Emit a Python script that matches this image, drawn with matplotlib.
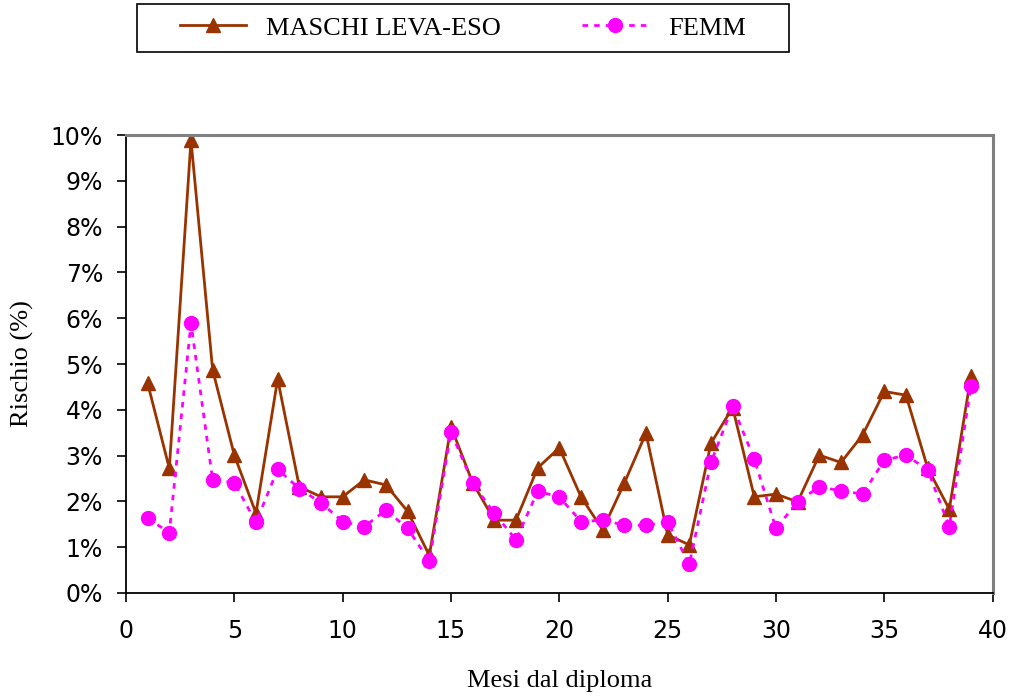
import matplotlib.pyplot as plt
from matplotlib.patches import Rectangle
from matplotlib.ticker import FuncFormatter

mesi = list(range(1, 40))

maschi = [4.58, 2.72, 9.89, 4.87, 3.01, 1.74, 4.67, 2.32, 2.10, 2.10,
          2.47, 2.36, 1.78, 0.82, 3.63, 2.41, 1.59, 1.59, 2.73, 3.17,
          2.10, 1.38, 2.40, 3.49, 1.27, 1.05, 3.27, 4.05, 2.10, 2.16,
          1.99, 3.01, 2.85, 3.45, 4.40, 4.32, 2.73, 1.83, 4.74]

femm = [1.63, 1.32, 5.89, 2.47, 2.41, 1.54, 2.70, 2.28, 1.97, 1.56,
        1.45, 1.81, 1.41, 0.70, 3.52, 2.40, 1.74, 1.16, 2.22, 2.10,
        1.56, 1.59, 1.48, 1.48, 1.55, 0.63, 2.85, 4.08, 2.92, 1.41,
        1.99, 2.32, 2.23, 2.16, 2.90, 3.01, 2.69, 1.45, 4.53]

serif = "Liberation Serif"

fig = plt.figure(figsize=(10.16, 6.96), dpi=100)
ax = fig.add_axes([0.124, 0.148, 0.853, 0.658])

l1, = ax.plot(mesi, maschi, color="#993300", lw=2, marker="^", markersize=10,
              label="MASCHI LEVA-ESO")
l2, = ax.plot(mesi, femm, color="#FF00FF", lw=2, linestyle=(0, (2, 2.2)),
              marker="o", markersize=10, label="FEMM")

ax.set_xlim(0, 40)
ax.set_ylim(0, 10)
ax.set_xticks(range(0, 41, 5))
ax.set_yticks(range(0, 11))
ax.yaxis.set_major_formatter(FuncFormatter(lambda v, p: "%d%%" % v))
ax.tick_params(labelsize=17, direction="out", length=6.5, width=1.2, color="black")
ax.tick_params(axis="x", pad=12)
ax.tick_params(axis="y", pad=10)

for s in ["left", "bottom"]:
    ax.spines[s].set_color("black")
    ax.spines[s].set_linewidth(1.3)
for s in ["top", "right"]:
    ax.spines[s].set_color("#808080")
    ax.spines[s].set_linewidth(2.2)

ax.set_xlabel("Mesi dal diploma", fontfamily=serif, fontsize=19, labelpad=20)
ax.set_ylabel("Rischio (%)", fontfamily=serif, fontsize=19, labelpad=12)

# legend box drawn by hand, entries centred inside it
fig.patches.append(Rectangle((137 / 1016, 1 - 52 / 696), 652 / 1016, 48 / 696,
                             transform=fig.transFigure, fill=False,
                             edgecolor="black", lw=1.2))
fig.legend(handles=[l1, l2], loc="center", ncol=2,
           bbox_to_anchor=(463 / 1016, 1 - 28 / 696), frameon=False,
           prop={"family": serif, "size": 19}, handlelength=2.5,
           columnspacing=3.1, handletextpad=0.75)

plt.savefig("out.png", dpi=100)
